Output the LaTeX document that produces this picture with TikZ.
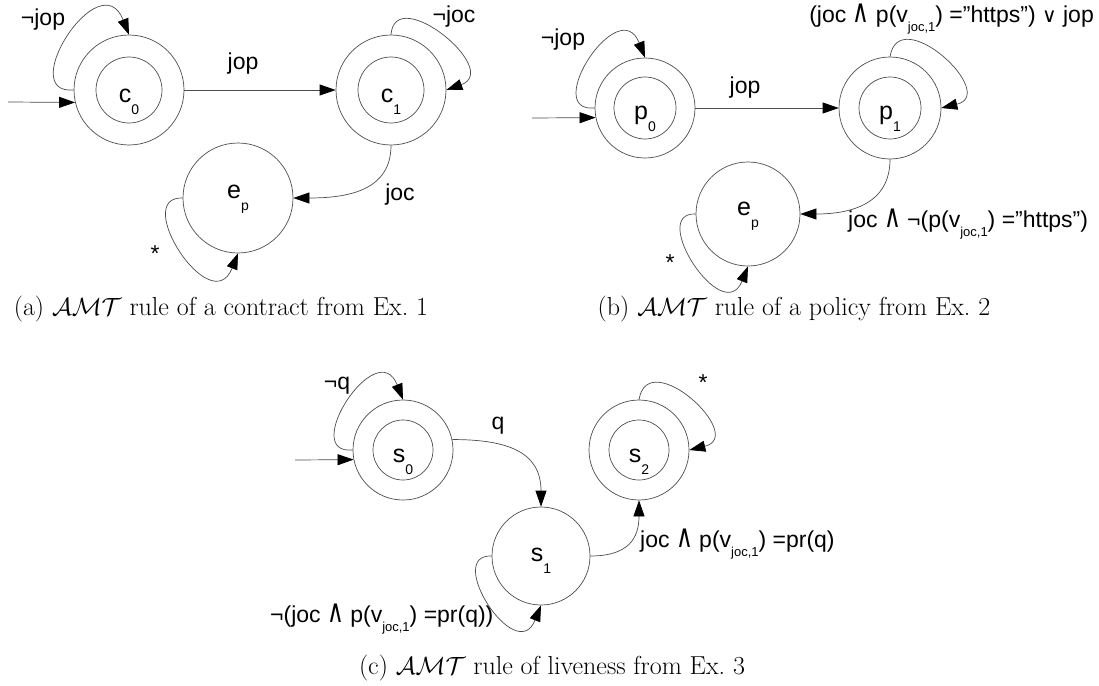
\documentclass[tikz,border=0pt]{standalone}
\usepackage{fontspec}
\usetikzlibrary{arrows.meta}
\newfontfamily\arialf{Liberation Sans}
\newfontfamily\dvf{DejaVu Sans}
\newcommand\ssub[1]{\raisebox{-12pt}{\fontsize{14}{14}\selectfont #1}}
\newcommand\esub[1]{\raisebox{-9pt}{\fontsize{13}{13}\selectfont #1}}
\newcommand\myand{\scalebox{1.15}[1.6]{\dvf\fontsize{20}{20}\selectfont ∧}}
\newcommand\myor{{\dvf\fontsize{20}{20}\selectfont ∨}}
\tikzset{
  st/.style={circle, draw=black!70, line width=0.7pt, minimum size=#1, inner sep=0pt,
    font=\arialf\fontsize{25}{25}\selectfont, text depth=0pt},
  ring/.style={draw=black!70, line width=0.7pt},
  tr/.style={draw=black!70, line width=0.7pt, -{Triangle[length=16pt,width=11pt,fill=black,color=black]}},
  el/.style={font=\arialf\fontsize{23}{23}\selectfont, inner sep=0pt},
  capt/.style={font=\fontsize{26}{30}\selectfont, inner sep=0pt},
}
\begin{document}
\begin{tikzpicture}[x=1pt,y=-1pt]
\useasboundingbox (0,0) rectangle (1099,685);
% ---------------- (a)
\node[st=110pt, text height=24pt] (c0) at (129,90) {c\ssub{0}};
\draw[ring] (c0.center) circle[radius=33pt];
\node[st=110pt, text height=24pt] (c1) at (391,90) {c\ssub{1}};
\draw[ring] (c1.center) circle[radius=33pt];
\node[st=110pt, text height=0pt] (ea) at (238,198) {e\ssub{p}};
\coordinate (c0in) at (8,102);
\draw[tr] (c0in) -- (c0.193);
\draw[tr] (c0.180) .. controls +(-59,5) and +(-29,-73) .. (c0.90);
\draw[tr] (c0) -- (c1);
\draw[tr] (c1.90) .. controls +(4,-52) and +(56,-20) .. (c1.0);
\draw[tr] (c1.270) .. controls +(0,45) and +(55,0) .. (ea.0);
\draw[tr] (ea.180) .. controls +(-52,-2) and +(-27,68) .. (ea.270);
\node[el] (la1) at (43,20) {¬jop};
\node[el] (la2) at (243,64) {jop};
\node[el] (la3) at (454,17) {¬joc};
\node[el] (la4) at (400,195) {joc};
\node[el, anchor=base] (la5) at (155,261) {*};
\node[capt] (capa) at (221,309) {(a) $\mathcal{AMT}$ rule of a contract from Ex.~1};
% ---------------- (b)
\node[st=100pt, text height=22pt] (p0) at (645,108) {p\ssub{0}};
\draw[ring] (p0.center) circle[radius=31pt];
\node[st=102pt, text height=22pt] (p1) at (890,108) {p\ssub{1}};
\draw[ring] (p1.center) circle[radius=31pt];
\node[st=104pt, text height=2pt] (eb) at (748,214) {e\ssub{p}};
\coordinate (p0in) at (532,118);
\draw[tr] (p0in) -- (p0.191);
\draw[tr] (p0.180) .. controls +(-54,5) and +(-26,-66) .. (p0.90);
\draw[tr] (p0) -- (p1);
\draw[tr] (p1.90) .. controls +(9,-55) and +(58,-14) .. (p1.0);
\draw[tr] (p1.270) .. controls +(0,45) and +(50,0) .. (eb.0);
\draw[tr] (eb.180) .. controls +(-48,-2) and +(-25,62) .. (eb.270);
\node[el] (lb1) at (563,40) {¬jop};
\node[el] (lb2) at (745,88) {jop};
\node[el, anchor=base east] (lb3) at (1094,23) {(joc \myand{} p(v\esub{joc,1}) =”https”) \myor{} jop};
\node[el, anchor=base west] (lb4) at (848,227) {joc \myand{} ¬(p(v\esub{joc,1}) =”https”)};
\node[el, anchor=base] (lb5) at (670,270) {*};
\node[capt] (capb) at (794,309) {(b) $\mathcal{AMT}$ rule of a policy from Ex.~2};
% ---------------- (c)
\node[st=100pt, text height=24pt] (s0) at (403,450) {s\ssub{0}};
\draw[ring] (s0.center) circle[radius=30pt];
\node[st=100pt, text height=24pt] (s2) at (639,450) {s\ssub{2}};
\draw[ring] (s2.center) circle[radius=30pt];
\node[st=98pt, text height=10pt] (s1) at (541,556) {s\ssub{1}};
\coordinate (s0in) at (295,460);
\draw[tr] (s0in) -- (s0.191);
\draw[tr] (s0.180) .. controls +(-54,5) and +(-26,-66) .. (s0.90);
\draw[tr] (s0.12) .. controls +(55,0) and +(0,-55) .. (s1.90);
\draw[tr] (s2.90) .. controls +(9,-55) and +(58,-14) .. (s2.0);
\draw[tr] (s1.0) .. controls +(38,0) and +(0,38) .. (s2.270);
\draw[tr] (s1.180) .. controls +(-48,-2) and +(-25,62) .. (s1.270);
\node[el] (lc1) at (337,386) {¬q};
\node[el] (lc2) at (498,426) {q};
\node[el, anchor=base] (lc3) at (703,390) {*};
\node[el, anchor=base west] (lc4) at (640,547) {joc \myand{} p(v\esub{joc,1}) =pr(q)};
\node[el, anchor=base west] (lc5) at (270,622) {¬(joc \myand{} p(v\esub{joc,1}) =pr(q))};
\node[capt] (capc) at (552,668) {(c) $\mathcal{AMT}$ rule of liveness from Ex.~3};
\end{tikzpicture}
\end{document}
